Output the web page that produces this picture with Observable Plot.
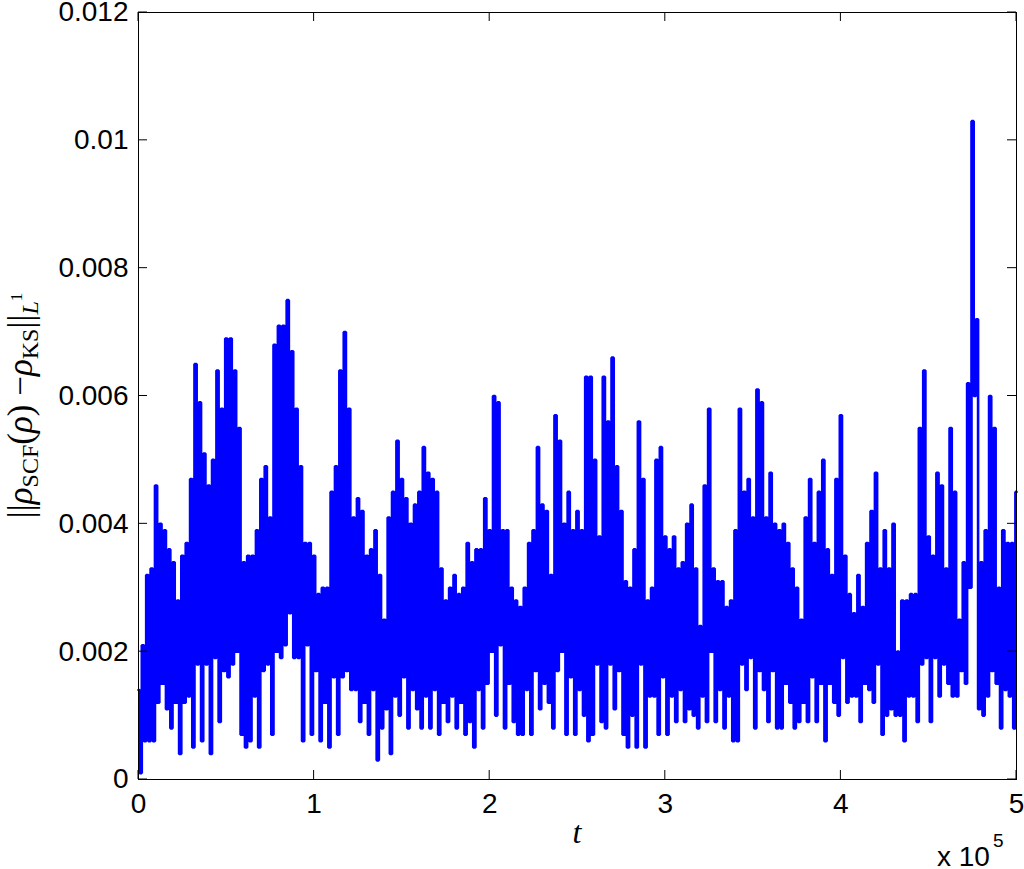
<!DOCTYPE html>
<html>
<head>
<meta charset="utf-8">
<script src="https://cdn.jsdelivr.net/npm/d3@7"></script>
<script src="https://cdn.jsdelivr.net/npm/@observablehq/plot@0.6"></script>
<style>
  html, body { margin: 0; padding: 0; background: #ffffff; }
  #chart svg { display: block; }
</style>
</head>
<body>
<div id="chart"></div>
<script>
// sampling step of the time axis (t units)
const tStep = 1250;
// ||rho_SCF(rho) - rho_KS||_{L1} (alternating local highs / lows)
const l1Error = [
  0.0014,0.0001, 0.0021,0.0006, 0.0032,0.0006, 0.0033,0.0006, 0.0046,0.0012,
  0.0040,0.0015, 0.0039,0.0011, 0.0036,0.0008, 0.0034,0.0012, 0.0028,0.0004,
  0.0035,0.0012, 0.0037,0.0013, 0.0047,0.0005, 0.0065,0.0018, 0.0059,0.0006,
  0.0051,0.0018, 0.0046,0.0004, 0.0050,0.0019, 0.0064,0.0009, 0.0058,0.0017,
  0.0069,0.0016, 0.0069,0.0018, 0.0064,0.0020, 0.0055,0.0007, 0.0034,0.0005,
  0.0035,0.0006, 0.0035,0.0013, 0.0039,0.0005, 0.0047,0.0017, 0.0049,0.0018,
  0.0041,0.0007, 0.0068,0.0020, 0.0071,0.0019, 0.0071,0.0021, 0.0075,0.0026,
  0.0067,0.0019, 0.0058,0.0019, 0.0049,0.0006, 0.0037,0.0021, 0.0037,0.0007,
  0.0035,0.0017, 0.0029,0.0006, 0.0030,0.0012, 0.0030,0.0005, 0.0045,0.0016,
  0.0049,0.0007, 0.0064,0.0016, 0.0070,0.0017, 0.0058,0.0014, 0.0041,0.0014,
  0.0044,0.0009, 0.0042,0.0012, 0.0035,0.0007, 0.0036,0.0014, 0.0039,0.0003,
  0.0032,0.0008, 0.0025,0.0011, 0.0041,0.0004, 0.0045,0.0013, 0.0053,0.0010,
  0.0047,0.0016, 0.0044,0.0008, 0.0040,0.0014, 0.0043,0.0011, 0.0045,0.0008,
  0.0052,0.0013, 0.0048,0.0008, 0.0047,0.0014, 0.0045,0.0007, 0.0033,0.0012,
  0.0028,0.0009, 0.0030,0.0013, 0.0032,0.0008, 0.0029,0.0012, 0.0030,0.0007,
  0.0037,0.0009, 0.0034,0.0005, 0.0036,0.0014, 0.0036,0.0008, 0.0044,0.0015,
  0.0039,0.0020, 0.0060,0.0010, 0.0059,0.0021, 0.0039,0.0008, 0.0039,0.0015,
  0.0030,0.0009, 0.0028,0.0007, 0.0027,0.0007, 0.0030,0.0014, 0.0037,0.0007,
  0.0039,0.0017, 0.0052,0.0011, 0.0043,0.0015, 0.0042,0.0012, 0.0032,0.0008,
  0.0057,0.0017, 0.0053,0.0020, 0.0040,0.0007, 0.0045,0.0016, 0.0039,0.0007,
  0.0042,0.0014, 0.0039,0.0010, 0.0063,0.0006, 0.0063,0.0007, 0.0050,0.0018,
  0.0038,0.0009, 0.0063,0.0008, 0.0056,0.0018, 0.0066,0.0011, 0.0049,0.0017,
  0.0042,0.0007, 0.0031,0.0005, 0.0030,0.0010, 0.0036,0.0005, 0.0056,0.0018,
  0.0047,0.0005, 0.0028,0.0013, 0.0030,0.0013, 0.0050,0.0007, 0.0052,0.0016,
  0.0038,0.0007, 0.0036,0.0013, 0.0038,0.0009, 0.0033,0.0014, 0.0034,0.0009,
  0.0040,0.0011, 0.0043,0.0010, 0.0033,0.0008, 0.0024,0.0013, 0.0046,0.0009,
  0.0058,0.0020, 0.0033,0.0009, 0.0031,0.0014, 0.0031,0.0008, 0.0027,0.0013,
  0.0028,0.0006, 0.0039,0.0006, 0.0058,0.0018, 0.0045,0.0014, 0.0047,0.0019,
  0.0041,0.0008, 0.0061,0.0017, 0.0059,0.0014, 0.0041,0.0009, 0.0048,0.0017,
  0.0040,0.0008, 0.0039,0.0008, 0.0040,0.0015, 0.0037,0.0012, 0.0033,0.0008,
  0.0030,0.0009, 0.0025,0.0012, 0.0041,0.0009, 0.0047,0.0016, 0.0037,0.0009,
  0.0045,0.0015, 0.0050,0.0006, 0.0036,0.0015, 0.0032,0.0012, 0.0047,0.0010,
  0.0057,0.0019, 0.0035,0.0012, 0.0029,0.0013, 0.0026,0.0013, 0.0032,0.0009,
  0.0027,0.0015, 0.0037,0.0014, 0.0042,0.0012, 0.0048,0.0018, 0.0033,0.0007,
  0.0039,0.0010, 0.0033,0.0011, 0.0040,0.0010, 0.0020,0.0010, 0.0028,0.0006,
  0.0028,0.0013, 0.0029,0.0013, 0.0029,0.0009, 0.0055,0.0018, 0.0064,0.0019,
  0.0038,0.0009, 0.0035,0.0019, 0.0048,0.0013, 0.0046,0.0018, 0.0033,0.0015,
  0.0055,0.0013, 0.0045,0.0013, 0.0025,0.0017, 0.0034,0.0015, 0.0062,0.0030,
  0.0103,0.0060, 0.0072,0.0011, 0.0034,0.0010, 0.0039,0.0013, 0.0060,0.0017,
  0.0055,0.0015, 0.0030,0.0008, 0.0039,0.0014, 0.0037,0.0013, 0.0037,0.0008,
  0.0045
];
const xTicks = [0, 100000, 200000, 300000, 400000, 500000];
const xTickLabels = ["0", "1", "2", "3", "4", "5"];
const yTicks = [0, 0.002, 0.004, 0.006, 0.008, 0.010, 0.012];
const yTickLabels = ["0", "0.002", "0.004", "0.006", "0.008", "0.01", "0.012"];

const data = l1Error.map((v, i) => ({t: i * tStep, e: v}));

const W = 1024, H = 869;
const sansFont = "'Liberation Sans', Arial, Helvetica, sans-serif";
const serifFont = "'Liberation Serif', 'Times New Roman', serif";

const plot = Plot.plot({
  width: W,
  height: H,
  marginLeft: 138,
  marginRight: 8,
  marginTop: 12,
  marginBottom: 90,
  style: {background: "#ffffff", fontFamily: sansFont, color: "#000"},
  x: {domain: [0, 500000]},
  y: {domain: [0, 0.012]},
  marks: [
    Plot.line(data, {x: "t", y: "e", curve: "step", stroke: "#0000ff", strokeWidth: 2.6, strokeLinejoin: "miter"}),
    Plot.frame({stroke: "#000", strokeWidth: 1}),
    Plot.axisX({ticks: xTicks, tickFormat: d => xTickLabels[xTicks.indexOf(d)], tickSize: 0, tickPadding: 14, fontSize: 28, label: null}),
    Plot.axisY({ticks: yTicks, tickFormat: d => yTickLabels[yTicks.indexOf(d)], tickSize: 0, tickPadding: 10, fontSize: 28, label: null})
  ]
});

document.getElementById("chart").appendChild(plot);

const svg = d3.select(plot);
const sx = plot.scale("x"), sy = plot.scale("y");
const x0 = sx.apply(0), x1 = sx.apply(500000);
const y0 = sy.apply(0), y1 = sy.apply(0.012);
const tl = 9;
const tg = svg.append("g").attr("stroke", "#000").attr("stroke-width", 1);
xTicks.forEach(v => {
  const px = sx.apply(v);
  tg.append("line").attr("x1", px).attr("x2", px).attr("y1", y0).attr("y2", y0 - tl);
  tg.append("line").attr("x1", px).attr("x2", px).attr("y1", y1).attr("y2", y1 + tl);
});
yTicks.forEach(v => {
  const py = sy.apply(v);
  tg.append("line").attr("x1", x0).attr("x2", x0 + tl).attr("y1", py).attr("y2", py);
  tg.append("line").attr("x1", x1).attr("x2", x1 - tl).attr("y1", py).attr("y2", py);
});

// x label
svg.append("text")
  .attr("x", (x0 + x1) / 2).attr("y", 843)
  .attr("text-anchor", "middle")
  .attr("font-family", serifFont).attr("font-style", "italic").attr("font-size", 32)
  .attr("fill", "#000")
  .text("t");

// exponent label
const ex = svg.append("text")
  .attr("x", 937).attr("y", 866)
  .attr("text-anchor", "start")
  .attr("font-family", sansFont).attr("font-size", 28).attr("fill", "#000");
ex.append("tspan").text("x 10");
ex.append("tspan").attr("font-size", 19).attr("dx", 3).attr("dy", -19).text("5");

// y label
const yl = svg.append("text")
  .attr("transform", `translate(32, ${(y0 + y1) / 2 + 10}) rotate(-90)`)
  .attr("text-anchor", "middle")
  .attr("font-family", serifFont).attr("font-size", 35).attr("fill", "#000");
yl.append("tspan").text("||");
yl.append("tspan").attr("font-style", "italic").text("ρ");
yl.append("tspan").attr("font-size", 24).attr("dy", 6).text("SCF");
yl.append("tspan").attr("dy", -6).text("(");
yl.append("tspan").attr("font-style", "italic").text("ρ");
yl.append("tspan").text(") −");
yl.append("tspan").attr("font-style", "italic").text("ρ");
yl.append("tspan").attr("font-size", 24).attr("dy", 6).text("KS");
yl.append("tspan").attr("dy", -6).text("||");
yl.append("tspan").attr("font-size", 24).attr("font-style", "italic").attr("dy", 6).text("L");
yl.append("tspan").attr("font-size", 17).attr("dy", -16).text("1");
</script>
</body>
</html>
